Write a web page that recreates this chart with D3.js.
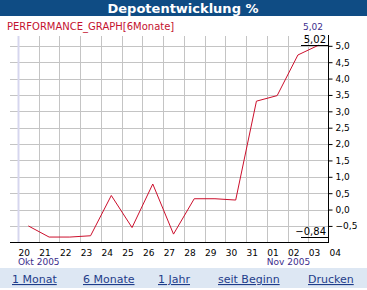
<!DOCTYPE html>
<html lang="de">
<head>
<meta charset="UTF-8" />
<title>Depotentwicklung</title>
<script src="https://d3js.org/d3.v7.min.js"></script>
<style>
    body { margin: 0; background: #fff; }
    svg { display: block; font-family: "DejaVu Sans", Verdana, sans-serif; }
    .grid line { stroke: #c4c4c4; stroke-width: 1; }
    .link { fill: #1f3d8a; font-size: 11px; text-decoration: underline; }
</style>
</head>
<body>
<svg width="367" height="290"></svg>
<script>
    // day labels on the x axis (Okt 20 .. Nov 04)
    const days = ["20", "21", "22", "23", "24", "25", "26", "27", "28", "29", "30", "31", "01", "02", "03", "04"];
    // performance in %, one value per day, drawn between the day ticks
    const perf = [-0.50, -0.84, -0.84, -0.80, 0.43, -0.55, 0.78, -0.75, 0.33, 0.33, 0.29, 3.31, 3.48, 4.72, 5.02];
    const yTicks = [-0.5, 0, 0.5, 1, 1.5, 2, 2.5, 3, 3.5, 4, 4.5, 5];
    const months = [{ label: "Okt 2005", at: 0 }, { label: "Nov 2005", at: 12 }];
    const links = ["1 Monat", "6 Monate", "1 Jahr", "seit Beginn", "Drucken"];
    const linkX = [12, 83, 158, 218, 308];

    const svg = d3.select("svg");
    const fmt = v => d3.format(".1f")(v).replace(".", ",").replace("-0,0", "0,0");
    const fmt2 = v => d3.format(".2f")(v).replace(".", ",");

    const x = d3.scaleLinear().domain([0, days.length - 1]).range([18, 329]);
    const y = d3.scaleLinear().domain([-1, 5.3]).range([242.3, 36]);

    // title bar
    svg.append("rect").attr("x", 0).attr("y", 0).attr("width", 367).attr("height", 16)
        .attr("fill", "#0f4c84");
    svg.append("text").attr("x", 183).attr("y", 13).attr("text-anchor", "middle")
        .attr("fill", "#fff").attr("font-weight", "bold").attr("font-size", "13px")
        .text("Depotentwicklung %");

    svg.append("text").attr("x", 7).attr("y", 30).attr("fill", "#c4122f")
        .attr("font-size", "10px").text("PERFORMANCE_GRAPH[6Monate]");

    const last = perf[perf.length - 1];
    svg.append("text").attr("x", 323).attr("y", 30).attr("text-anchor", "end")
        .attr("fill", "#3b2d8c").attr("font-size", "9px").text(fmt2(last));

    // grid
    const grid = svg.append("g").attr("class", "grid");
    grid.selectAll(".h").data(yTicks).enter().append("line")
        .attr("x1", 10).attr("x2", 328)
        .attr("y1", d => Math.round(y(d)) + 0.5).attr("y2", d => Math.round(y(d)) + 0.5);
    grid.selectAll(".v").data(d3.range(0, days.length - 1)).enter().append("line")
        .attr("x1", d => Math.round(x(d)) + 0.5).attr("x2", d => Math.round(x(d)) + 0.5)
        .attr("y1", 36).attr("y2", 242)
        .style("stroke", d => d === 0 ? "#d6d6ee" : null)
        .style("stroke-width", d => d === 0 ? 2 : null);

    // axes
    const yAxis = svg.append("g").attr("transform", "translate(328.5,0)")
        .call(d3.axisRight(y).tickValues(yTicks).tickSize(4).tickPadding(3).tickFormat(fmt));
    yAxis.select(".domain").attr("d", "M0,35V242.5").attr("stroke", "#000");
    yAxis.selectAll("text").attr("font-family", "DejaVu Sans").attr("font-size", "9px")
        .attr("fill", "#000");

    const xAxis = svg.append("g").attr("transform", "translate(0,242.5)")
        .call(d3.axisBottom(x).tickValues(d3.range(days.length)).tickSize(0).tickPadding(7)
            .tickFormat(i => days[i]));
    xAxis.select(".domain").attr("d", "M10,0H329").attr("stroke", "#000");
    xAxis.selectAll("text").attr("text-anchor", "start").attr("font-family", "DejaVu Sans")
        .attr("font-size", "9px").attr("fill", "#000");

    svg.selectAll(".month").data(months).enter().append("text")
        .attr("x", d => x(d.at)).attr("y", 265).attr("fill", "#3b2d8c")
        .attr("font-size", "9px").text(d => d.label);

    // line
    const line = d3.line().x((d, i) => x(i + 0.5)).y(d => y(d));
    svg.append("path").datum(perf).attr("d", line)
        .attr("fill", "none").attr("stroke", "#cc0f2c").attr("stroke-width", 1);

    // max / min markers
    const maxV = d3.max(perf), minV = d3.min(perf);
    [maxV, minV].forEach(v => {
        svg.append("line").attr("x1", 301).attr("x2", 328)
            .attr("y1", Math.round(y(v)) + 0.5).attr("y2", Math.round(y(v)) + 0.5)
            .attr("stroke", "#000");
        svg.append("text").attr("x", 326).attr("y", y(v) - 2).attr("text-anchor", "end")
            .attr("font-size", "10px").attr("fill", "#000").text(fmt2(v));
    });

    // link bar
    svg.append("rect").attr("x", 0).attr("y", 268).attr("width", 367).attr("height", 20)
        .attr("fill", "#dde7f3");
    svg.selectAll(".link").data(links).enter().append("text").attr("class", "link")
        .attr("x", (d, i) => linkX[i]).attr("y", 283).text(d => d);
</script>
</body>
</html>
